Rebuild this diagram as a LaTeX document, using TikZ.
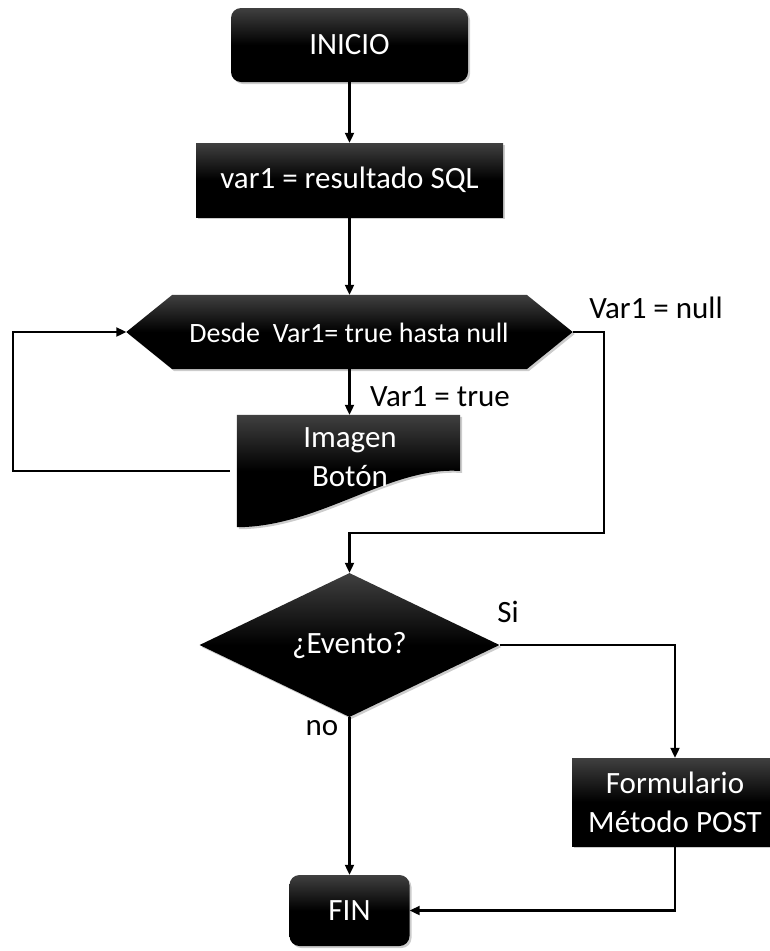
\documentclass[tikz,border=0pt]{standalone}
\usepackage{fontspec}
\setmainfont{Carlito}
\usetikzlibrary{arrows.meta,shapes.geometric,shadows}
\begin{document}
\begin{tikzpicture}[x=1pt,y=-1pt,
  blk/.style={top color=black!75, bottom color=black, middle color=black, draw=none},
  shd/.style={drop shadow={shadow xshift=2pt,shadow yshift=-2pt,opacity=0.2,fill=black}},
  txt/.style={text=white, font=\fontsize{31}{39}\selectfont, align=center, inner sep=0pt},
  lbl/.style={text=black, font=\fontsize{31}{37}\selectfont, inner sep=0pt},
  conn/.style={line width=2.1pt, -{Triangle[length=10pt,width=9pt]}}
]
\path[use as bounding box] (0,0) rectangle (770,951);
\clip (0,0) rectangle (770,951);

% nodes
\node[blk,shd,rounded corners=10pt,minimum width=237pt,minimum height=74pt,txt] (inicio) at (349.5,45) {INICIO};
\node[blk,shd,minimum width=307pt,minimum height=74pt,txt] (var1) at (349.5,180) {var1 = resultado SQL};

\node[minimum width=446pt,minimum height=74pt,inner sep=0pt] (hex) at (349.5,332) {};
\path[blk,shd] (hex.west) -- ([xshift=46pt]hex.north west) -- ([xshift=-46pt]hex.north east) -- (hex.east)
  -- ([xshift=-46pt]hex.south east) -- ([xshift=46pt]hex.south west) -- cycle;
\node[txt,font=\fontsize{28}{32}\selectfont] (hextxt) at (349,333) {Desde\ \ Var1= true hasta null};

\node[minimum width=223pt,minimum height=112pt,inner sep=0pt] (doc) at (348.5,471) {};
\path[blk,shd] (doc.north west) -- (doc.north east) -- (doc.east)
  .. controls (390,466) and (320,527) .. (doc.south west) -- cycle;
\node[txt] (doctxt) at (350,457) {Imagen\\Botón};

\node[diamond,blk,shd,minimum width=300pt,minimum height=144pt,aspect=2.08,txt] (ev) at (349.5,645) {¿Evento?};
\node[blk,shd,rounded corners=10pt,minimum width=120pt,minimum height=71pt,txt] (fin) at (349.5,910.5) {FIN};
\node[blk,shd,minimum width=206pt,minimum height=88pt,txt] (form) at (675,802) {Formulario\\Método POST};

% labels
\node[lbl,anchor=west] (ltrue) at (370,397) {Var1 = true};
\node[lbl] (lnull) at (656,308) {Var1 = null};
\node[lbl] (lsi) at (508,612) {Si};
\node[lbl] (lno) at (322,728) {no};

% helper coordinates
\coordinate (loopT) at (13,332);
\coordinate (nullR) at (604,533);

% connectors
\draw[conn] (inicio.south) -- (inicio.south |- var1.north);
\draw[conn] (var1.south) -- (var1.south |- hex.north);
\draw[conn] (hex.south) -- (hex.south |- doc.north);
\draw[conn] ([xshift=-7pt]doc.west) -| (loopT) -- (hex.west);
\draw[conn] (hex.east) -| (nullR) -| (ev.north);
\draw[conn] (ev.east) -| (form.north);
\draw[conn] (ev.south) -- (ev.south |- fin.north);
\draw[conn] (form.south) |- (fin.east);
\end{tikzpicture}
\end{document}
